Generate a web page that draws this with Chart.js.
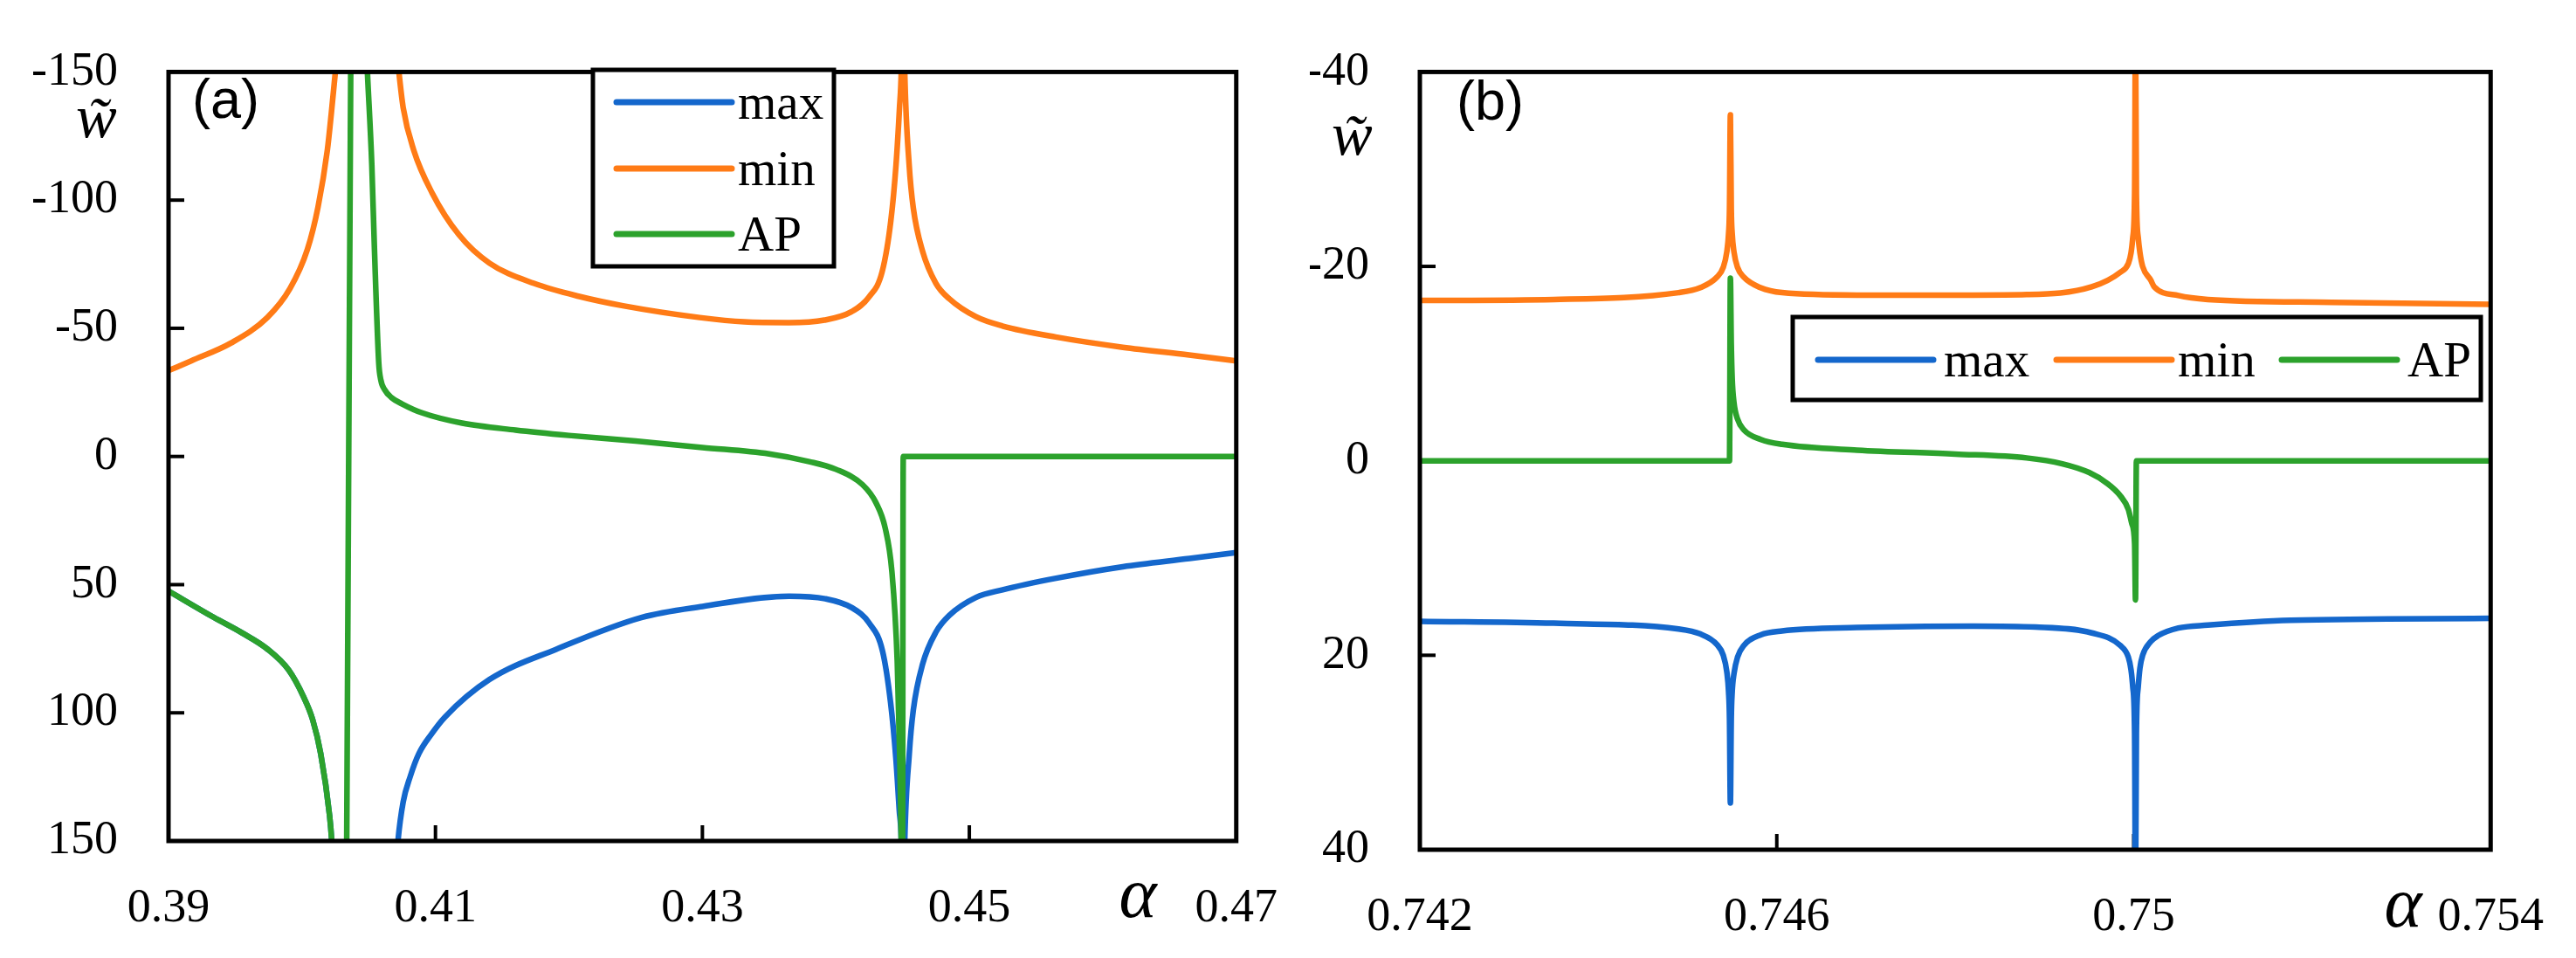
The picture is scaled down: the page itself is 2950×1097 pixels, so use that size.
<!DOCTYPE html>
<html>
<head>
<meta charset="utf-8">
<script src="https://cdn.jsdelivr.net/npm/chart.js@4.4.0/dist/chart.umd.min.js"></script>
<style>
  html, body { margin: 0; padding: 0; background: #fff; }
  body { width: 2950px; height: 1097px; position: relative; overflow: hidden; }
  canvas { position: absolute; top: 0; }
  #graficaA { left: 0; }
  #graficaB { left: 1500px; }
</style>
</head>
<body>
<canvas id="graficaA" width="1500" height="1097"></canvas>
<canvas id="graficaB" width="1450" height="1097"></canvas>
<script>
const nombres = ['max', 'min', 'AP'];
const colores = ['#1467cc', '#ff7b16', '#2ca22c'];

// ---- panel (a) ----
const ejeXA = [0.39, 0.41, 0.43, 0.45, 0.47];
const etiquetasXA = ['0.39', '0.41', '0.43', '0.45', '0.47'];
const ejeYA = [-150, -100, -50, 0, 50, 100, 150];
const etiquetasYA = ['-150', '-100', '-50', '0', '50', '100', '150'];

const alfaMaxA = [0.39, 0.3934, 0.3955, 0.3974, 0.399, 0.4001, 0.4008, 0.4014, 0.40207, 0.40223, 0.4026, 0.4067,
  0.40719, 0.40758, 0.4081, 0.40876, 0.4097, 0.41072, 0.41405, 0.41909, 0.42543, 0.43, 0.4365, 0.4392, 0.4412,
  0.4425, 0.4435, 0.4441, 0.4445, 0.44475, 0.4449, 0.44503, 0.44516, 0.4455, 0.4458, 0.4465, 0.4475, 0.4485,
  0.4505, 0.4525, 0.4565, 0.4615, 0.4665, 0.47];
const maxA = [52.5, 62.8, 68.8, 75.1, 83.3, 93.6, 102.7, 115.9, 140.2, 150, 185, 185,
  150, 134.8, 125, 115.9, 108.3, 101.6, 87, 75.1, 62.8, 58.5, 54.5, 55.5, 59,
  65, 76, 96, 118, 138, 150, 190, 150, 116, 99, 81, 68.5, 62,
  55, 52, 47.5, 43, 39.8, 37.5];

const alfaMinA = [0.39, 0.3917, 0.3947, 0.3974, 0.3991, 0.4004, 0.4012, 0.4019, 0.4022, 0.4025, 0.4029, 0.4068,
  0.40726, 0.40758, 0.40837, 0.40974, 0.41177, 0.41405, 0.41739, 0.42072, 0.42405, 0.4298, 0.43314, 0.43647,
  0.43915, 0.44118, 0.44248, 0.44347, 0.44412, 0.44451, 0.44477, 0.4449, 0.44503, 0.44516, 0.44549, 0.4458,
  0.4465, 0.4475, 0.4485, 0.4505, 0.45248, 0.45647, 0.4615, 0.46647, 0.47];
const minA = [-33.5, -37.3, -44.3, -54.2, -65.5, -80.7, -97.3, -119.5, -134, -150, -175, -175,
  -150, -136.1, -119.5, -102.9, -86.4, -75.4, -67.5, -62.5, -58.8, -54.2, -52.5, -52.2,
  -53.2, -56.5, -62.2, -72.1, -92, -113.9, -136.1, -150, -190, -150, -113.9, -97,
  -80, -67.5, -61.5, -54.5, -50.9, -46.6, -42.6, -39.6, -37.3];

const alfaApA = [0.39, 0.3934, 0.3955, 0.3974, 0.399, 0.4001, 0.4008, 0.4014, 0.40207, 0.40223, 0.4026,
  0.40335, 0.40365, 0.4046, 0.4049, 0.40523, 0.40543, 0.40575, 0.4059, 0.4062, 0.4067, 0.4075, 0.409, 0.412,
  0.416, 0.42, 0.425, 0.43, 0.435, 0.438, 0.44, 0.442, 0.443, 0.4437, 0.4442, 0.4446, 0.4448, 0.4449,
  0.44498, 0.44505, 0.47];
const apA = [52.5, 62.8, 68.8, 75.1, 83.3, 93.6, 102.7, 115.9, 140.2, 150, 185,
  150, -150, -185, -150, -113.9, -80.7, -36.6, -30, -26, -23, -20.5, -17, -13,
  -10.3, -8.2, -6, -3.5, -1, 2, 5, 11, 18, 28, 45, 80, 120, 150,
  190, 0, 0];

// ---- panel (b) ----
const ejeXB = [0.742, 0.746, 0.75, 0.754];
const etiquetasXB = ['0.742', '0.746', '0.75', '0.754'];
const ejeYB = [-40, -20, 0, 20, 40];
const etiquetasYB = ['-40', '-20', '0', '20', '40'];

const alfaMaxB = [0.742, 0.7435, 0.7449, 0.74514, 0.74533, 0.7454, 0.74544, 0.74546, 0.74547, 0.74548, 0.74549,
  0.7455, 0.74552, 0.74556, 0.74563, 0.74582, 0.74606, 0.7469, 0.7482, 0.7489, 0.74953, 0.74985, 0.74994,
  0.74997, 0.74999, 0.75001, 0.75002, 0.75003, 0.75005, 0.75007, 0.7501, 0.75019, 0.75027, 0.7505, 0.75083,
  0.75176, 0.754];
const maxB = [16.5, 16.7, 17.3, 17.8, 18.9, 20.0, 21.7, 23.8, 26.5, 35.2, 26.5,
  23.8, 21.9, 20.2, 19.0, 17.9, 17.5, 17.15, 17.0, 17.1, 17.7, 19.0, 20.2,
  21.5, 23.3, 28, 45, 28, 23.3, 21.3, 20.0, 18.6, 18.0, 17.2, 16.9,
  16.4, 16.2];

const alfaMinB = [0.742, 0.7435, 0.7449, 0.74514, 0.74533, 0.7454, 0.74544, 0.74546, 0.74547, 0.74548, 0.74549,
  0.7455, 0.74552, 0.74556, 0.74563, 0.74582, 0.74606, 0.7469, 0.7482, 0.7488, 0.74953, 0.74985, 0.74994,
  0.74997, 0.74999, 0.75001, 0.75002, 0.75003, 0.75005, 0.75007, 0.7501, 0.75019, 0.75023, 0.7505, 0.75083,
  0.75222, 0.754];
const minB = [-16.5, -16.6, -17.3, -17.8, -18.9, -19.9, -21.5, -23.4, -25.9, -35.6, -25.9,
  -23.4, -21.5, -19.9, -18.9, -17.8, -17.3, -17.05, -17.05, -17.1, -17.9, -19.4, -20.3,
  -21.4, -23, -27.5, -45, -27.5, -23, -21.4, -20.0, -18.6, -17.9, -17.0, -16.6,
  -16.3, -16.1];

const alfaApB = [0.742, 0.74547, 0.74548, 0.74549, 0.7455, 0.74552, 0.74556, 0.74563, 0.74582, 0.74606, 0.7469,
  0.748, 0.7488, 0.7492, 0.7495, 0.7497, 0.74985, 0.74994, 0.74998, 0.75001, 0.75002, 0.75003, 0.754];
const apB = [0, 0, -18.8, -12, -8.5, -6, -4.3, -3.2, -2.2, -1.7, -1.1,
  -0.7, -0.3, 0.3, 1.2, 2.3, 3.6, 5.0, 6.5, 8.5, 14.3, 0, 0];

const fuenteSerif = "'Liberation Serif', 'Times New Roman', serif";
Chart.defaults.font.family = fuenteSerif;
Chart.defaults.font.size = 54;
Chart.defaults.color = '#000';

function serie(i, xs, ys, orden) {
  return {
    label: nombres[i],
    data: xs.map((x, k) => ({ x: x, y: ys[k] })),
    borderColor: colores[i],
    backgroundColor: colores[i],
    borderWidth: 6.5,
    borderCapStyle: 'round',
    borderJoinStyle: 'round',
    pointRadius: 0,
    cubicInterpolationMode: 'monotone',
    clip: 0,
    order: orden,
  };
}

// marco, marcas interiores, leyenda y textos
const marco = {
  id: 'marco',
  beforeDatasetsDraw(chart, args, o) {
    const ctx = chart.ctx, a = chart.chartArea;
    ctx.save();
    ctx.strokeStyle = '#000';
    ctx.lineWidth = 4;
    o.xTicks.slice(1, -1).forEach(v => {
      const px = chart.scales.x.getPixelForValue(v);
      ctx.beginPath(); ctx.moveTo(px, a.bottom); ctx.lineTo(px, a.bottom - 18); ctx.stroke();
    });
    o.yTicks.slice(1, -1).forEach(v => {
      const py = chart.scales.y.getPixelForValue(v);
      ctx.beginPath(); ctx.moveTo(a.left, py); ctx.lineTo(a.left + 18, py); ctx.stroke();
    });
    ctx.restore();
  },
  afterDatasetsDraw(chart, args, o) {
    const ctx = chart.ctx, a = chart.chartArea;
    ctx.save();
    ctx.strokeStyle = '#000';
    ctx.lineWidth = 5;
    ctx.strokeRect(a.left, a.top, a.right - a.left, a.bottom - a.top);

    // leyenda
    const L = o.leyenda;
    ctx.fillStyle = '#fff';
    ctx.fillRect(L.x, L.y, L.w, L.h);
    ctx.lineWidth = 5;
    ctx.strokeRect(L.x, L.y, L.w, L.h);
    ctx.font = '57px ' + fuenteSerif;
    ctx.textBaseline = 'alphabetic';
    ctx.textAlign = 'left';
    L.items.forEach((it, i) => {
      ctx.strokeStyle = colores[i];
      ctx.lineWidth = 7;
      ctx.lineCap = 'round';
      ctx.beginPath(); ctx.moveTo(it[0], it[2]); ctx.lineTo(it[1], it[2]); ctx.stroke();
      ctx.fillStyle = '#000';
      ctx.fillText(nombres[i], it[3], it[2] + 19);
    });

    // textos
    ctx.fillStyle = '#000';
    ctx.font = "63px 'Liberation Sans', Arial, sans-serif";
    ctx.fillText(o.panel[0], o.panel[1], o.panel[2]);
    ctx.font = 'italic 70px ' + fuenteSerif;
    ctx.fillText('w\u0303', o.w[0], o.w[1]);
    ctx.font = 'italic 82px ' + fuenteSerif;
    ctx.textAlign = 'center';
    ctx.fillText('\u03B1', o.alfa[0], o.alfa[1]);
    ctx.restore();
  }
};

function crearPanel(canvas, datasets, ejes, ajuste, extra) {
  return new Chart(canvas, {
    type: 'line',
    data: { datasets: datasets },
    plugins: [marco],
    options: {
      responsive: false,
      animation: false,
      devicePixelRatio: 1,
      layout: { padding: { left: 0, top: ajuste.top, right: ajuste.right, bottom: 0 } },
      plugins: {
        legend: { display: false },
        tooltip: { enabled: false },
        marco: Object.assign({ xTicks: ejes.x, yTicks: ejes.y }, extra),
      },
      scales: {
        x: {
          type: 'linear',
          min: ejes.x[0],
          max: ejes.x[ejes.x.length - 1],
          grid: { display: false },
          border: { display: false },
          afterBuildTicks: s => { s.ticks = ejes.x.map(v => ({ value: v })); },
          afterFit: s => { s.height = ajuste.xh; },
          ticks: {
            autoSkip: false, maxRotation: 0, padding: 37,
            font: { family: fuenteSerif, size: 54 },
            callback: (v, i) => ejes.xl[i],
          },
        },
        y: {
          type: 'linear',
          reverse: true,
          min: ejes.y[0],
          max: ejes.y[ejes.y.length - 1],
          grid: { display: false },
          border: { display: false },
          afterBuildTicks: s => { s.ticks = ejes.y.map(v => ({ value: v })); },
          afterFit: s => { s.width = ajuste.yw; },
          ticks: {
            autoSkip: false, padding: 50,
            font: { family: fuenteSerif, size: 54 },
            callback: (v, i) => ejes.yl[i],
          },
        },
      },
    },
  });
}

crearPanel(document.getElementById('graficaA'),
  [serie(0, alfaMaxA, maxA, 2), serie(1, alfaMinA, minA, 1), serie(2, alfaApA, apA, 0)],
  { x: ejeXA, xl: etiquetasXA, y: ejeYA, yl: etiquetasYA },
  { top: 58, right: 83, xh: 134, yw: 193 },
  {
    leyenda: { x: 679, y: 80, w: 276, h: 225,
      items: [[706, 838, 117, 845], [706, 838, 193, 845], [706, 838, 268, 845]] },
    panel: ['(a)', 220, 135],
    w: [87, 157],
    alfa: [1303, 1050],
  });

crearPanel(document.getElementById('graficaB'),
  [serie(0, alfaMaxB, maxB, 2), serie(1, alfaMinB, minB, 1), serie(2, alfaApB, apB, 0)],
  { x: ejeXB, xl: etiquetasXB, y: ejeYB, yl: etiquetasYB },
  { top: 53, right: 89, xh: 124, yw: 126 },
  {
    leyenda: { x: 553, y: 363, w: 788, h: 95,
      items: [[582, 714, 412, 726], [855, 987, 412, 994], [1113, 1245, 412, 1257]] },
    panel: ['(b)', 168, 137],
    w: [25, 177],
    alfa: [1252, 1061],
  });
</script>
</body>
</html>
